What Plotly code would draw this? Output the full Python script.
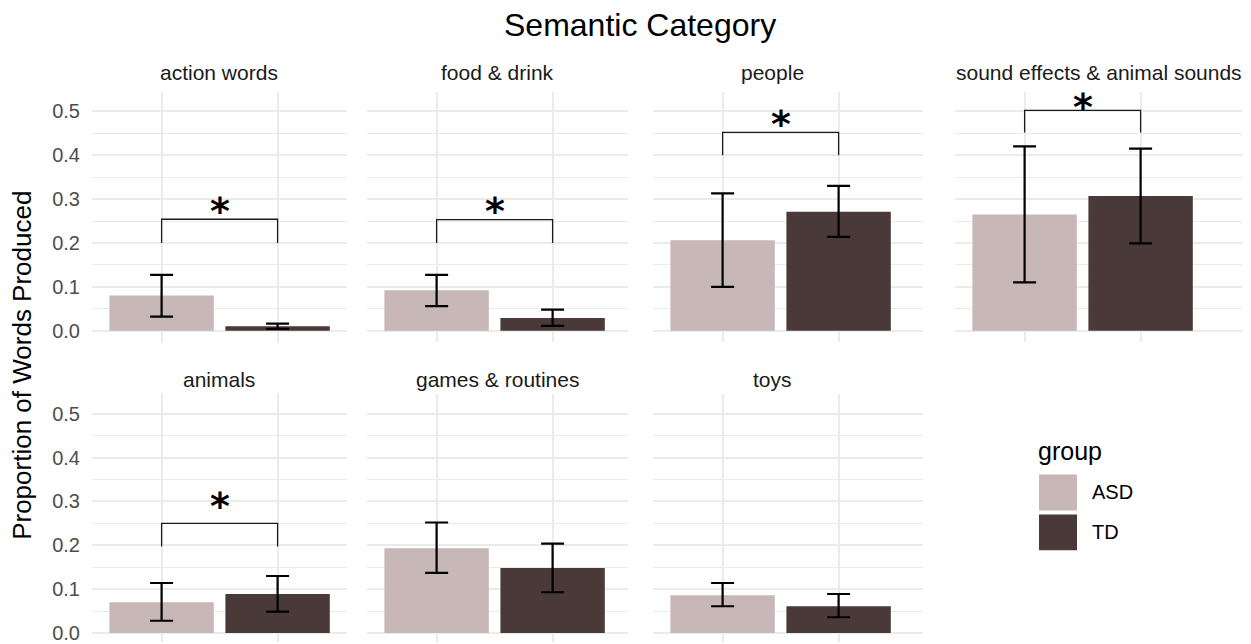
import plotly.graph_objects as go

# ---- data -------------------------------------------------------------
categories = ["action words", "food & drink", "people",
              "sound effects & animal sounds", "animals",
              "games & routines", "toys"]
groups = ["ASD", "TD"]

asd_mean = [0.080, 0.092, 0.206, 0.265, 0.070, 0.193, 0.086]
asd_lower = [0.032, 0.056, 0.100, 0.110, 0.028, 0.137, 0.061]
asd_upper = [0.127, 0.127, 0.313, 0.420, 0.114, 0.252, 0.114]

td_mean = [0.010, 0.029, 0.271, 0.307, 0.089, 0.148, 0.061]
td_lower = [0.004, 0.011, 0.214, 0.199, 0.049, 0.093, 0.036]
td_upper = [0.016, 0.048, 0.330, 0.415, 0.130, 0.204, 0.089]

# significance brackets (None = no bracket)
bracket_top = [0.254, 0.253, 0.452, 0.502, 0.250, None, None]
bracket_tip = [0.054, 0.053, 0.052, 0.050, 0.053, None, None]
sig_label = ["*", "*", "*", "*", "*", None, None]
sig_label_y = [0.294, 0.293, 0.492, 0.531, 0.309, None, None]

y_ticks = [0.0, 0.1, 0.2, 0.3, 0.4, 0.5]
y_tick_text = ["0.0", "0.1", "0.2", "0.3", "0.4", "0.5"]
y_minor = [0.05, 0.15, 0.25, 0.35, 0.45]

# ---- styling / layout ---------------------------------------------------
W, H = 1251, 644
COL_ASD = "#c7b7b6"
COL_TD = "#4a3939"
GRID = "#ebebeb"
FONT = "Liberation Sans, Arial, sans-serif"
STAR_FONT = "DejaVu Sans, Liberation Sans, sans-serif"

col_px = [(92, 347), (367, 628), (653, 923), (955, 1242)]
strip_cx = [219, 497, 772, 1099]
UNIT_PX = 116          # pixels per category step
PX_PER_Y = 440         # pixels per 1.0 of proportion
# (panel top px, panel bottom px, zero-line px, strip label y px)
row_px = [(92, 343, 331.7, 73), (395, 644, 635.0, 381)]

fig = go.Figure()
layout_axes = {}
annotations = []
shapes = []

for i, cat in enumerate(categories):
    r, c = divmod(i, 4)
    n = i + 1
    xa = "x" if n == 1 else f"x{n}"
    ya = "y" if n == 1 else f"y{n}"
    x0, x1 = col_px[c]
    top, bot, zero, strip_y = row_px[r]

    # bars
    fig.add_trace(go.Bar(
        x=[groups[0]], y=[asd_mean[i]], width=0.9,
        marker=dict(color=COL_ASD, line=dict(width=0)),
        error_y=dict(type="data", symmetric=False,
                     array=[asd_upper[i] - asd_mean[i]],
                     arrayminus=[asd_mean[i] - asd_lower[i]],
                     color="black", thickness=2.2, width=11.5),
        xaxis=xa, yaxis=ya, showlegend=False, hoverinfo="skip"))
    fig.add_trace(go.Bar(
        x=[groups[1]], y=[td_mean[i]], width=0.9,
        marker=dict(color=COL_TD, line=dict(width=0)),
        error_y=dict(type="data", symmetric=False,
                     array=[td_upper[i] - td_mean[i]],
                     arrayminus=[td_mean[i] - td_lower[i]],
                     color="black", thickness=2.2, width=11.5),
        xaxis=xa, yaxis=ya, showlegend=False, hoverinfo="skip"))

    # significance bracket
    if bracket_top[i] is not None:
        yb = bracket_top[i]
        fig.add_trace(go.Scatter(
            x=[groups[0], groups[0], groups[1], groups[1]],
            y=[yb - bracket_tip[i], yb, yb, yb - bracket_tip[i]],
            mode="lines", line=dict(color="#1a1a1a", width=1.3),
            xaxis=xa, yaxis=ya, showlegend=False, hoverinfo="skip"))
        annotations.append(dict(
            x=0.5, y=sig_label_y[i], xref=xa, yref=ya,
            text="<b>" + sig_label[i] + "</b>",
            showarrow=False, xanchor="center", yanchor="middle", yshift=-9,
            font=dict(family=STAR_FONT, size=38, color="black")))

    # axes
    xr = [-0.6, -0.6 + (x1 - x0) / UNIT_PX]
    yr = [(zero - bot) / PX_PER_Y, (zero - top) / PX_PER_Y]
    layout_axes["xaxis" if n == 1 else f"xaxis{n}"] = dict(
        domain=[x0 / W, x1 / W], range=xr, anchor=ya,
        type="category", categoryorder="array", categoryarray=groups,
        showticklabels=False, ticks="", showgrid=True, gridcolor=GRID,
        gridwidth=1.8, zeroline=False, showline=False, fixedrange=True)
    layout_axes["yaxis" if n == 1 else f"yaxis{n}"] = dict(
        domain=[1 - bot / H, 1 - top / H], range=yr, anchor=xa,
        tickvals=y_ticks, ticktext=y_tick_text,
        showticklabels=(c == 0), ticks="", ticklabelstandoff=11,
        ticklabeloverflow="allow",
        tickfont=dict(family=FONT, size=20, color="#4d4d4d"),
        showgrid=True, gridcolor=GRID, gridwidth=1.8,
        minor=dict(tickvals=y_minor, showgrid=True, gridcolor=GRID,
                   gridwidth=0.9, ticks=""),
        zeroline=False, showline=False, fixedrange=True)

    # facet strip label
    annotations.append(dict(
        x=strip_cx[c] / W, y=1 - strip_y / H, xref="paper", yref="paper",
        text=cat, showarrow=False, xanchor="center", yanchor="middle",
        font=dict(family=FONT, size=21, color="#1a1a1a")))

# title and axis title
annotations.append(dict(
    x=640 / W, y=1 - 25 / H, xref="paper", yref="paper",
    text="Semantic Category", showarrow=False,
    xanchor="center", yanchor="middle",
    font=dict(family=FONT, size=32, color="black")))
annotations.append(dict(
    x=22 / W, y=1 - 367 / H, xref="paper", yref="paper",
    text="Proportion of Words Produced", showarrow=False, textangle=-90,
    xanchor="center", yanchor="middle",
    font=dict(family=FONT, size=26, color="black")))

# legend
annotations.append(dict(
    x=1036 / W, y=1 - 452 / H, xref="paper", yref="paper",
    text="group", showarrow=False, xanchor="left", yanchor="middle",
    font=dict(family=FONT, size=25, color="black")))
for k, (g, col) in enumerate(zip(groups, [COL_ASD, COL_TD])):
    ky0 = 476 + k * 40
    shapes.append(dict(
        type="rect", xref="paper", yref="paper",
        x0=1039 / W, x1=1077 / W, y0=1 - (ky0 + 36) / H, y1=1 - ky0 / H,
        fillcolor=col, line=dict(width=0)))
    annotations.append(dict(
        x=1090 / W, y=1 - (ky0 + 18) / H, xref="paper", yref="paper",
        text=g, showarrow=False, xanchor="left", yanchor="middle",
        font=dict(family=FONT, size=20, color="black")))

fig.update_layout(
    width=W, height=H, autosize=False,
    margin=dict(l=0, r=0, t=0, b=0),
    paper_bgcolor="white", plot_bgcolor="white",
    barmode="overlay", showlegend=False,
    annotations=annotations, shapes=shapes,
    **layout_axes)

fig.write_html("out.html")
